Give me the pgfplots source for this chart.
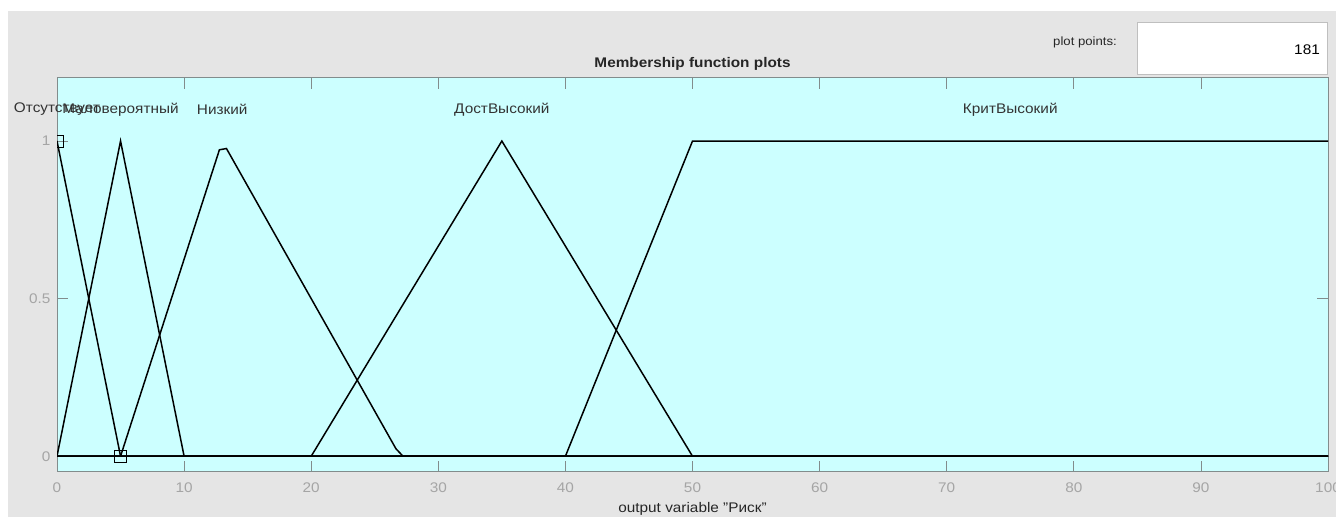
\documentclass[border=0pt]{standalone}
\usepackage{fontspec}
\setmainfont[FakeStretch=1.1]{Liberation Sans}
\usepackage{pgfplots}
\pgfplotsset{compat=1.18}
\definecolor{bg}{RGB}{229,229,229}
\definecolor{cy}{RGB}{204,255,255}
\definecolor{tl}{RGB}{165,165,165}
\definecolor{ax}{RGB}{130,140,140}
\begin{document}
\begin{tikzpicture}[x=1bp,y=1bp]
\path[use as bounding box] (0,0) rectangle (1336,517);
\fill[white] (0,0) rectangle (1336,517);
\fill[bg] (8,0) rectangle (1336,506);
\fill[white,draw=gray!50] (1137.5,443) rectangle (1327,495);
\node[anchor=east,font=\fontsize{14}{16}\selectfont,inner sep=0pt] at (1320,467) {181};
\node[anchor=east,font=\fontsize{12}{14}\selectfont,inner sep=0pt,text=black!85] at (1117,475) {plot points:};
\begin{axis}[
  at={(57bp,45bp)}, anchor=south west, scale only axis,
  width=1271bp, height=394bp,
  xmin=0, xmax=100, ymin=-0.05, ymax=1.2,
  xtick={0,10,...,100}, ytick={0,0.5,1},
  xticklabels={0,10,20,30,40,50,60,70,80,90,100},
  yticklabels={0,0.5,1},
  tick align=inside, xtick pos=both, ytick pos=both,
  major tick length=11bp,
  tick style={color=ax, line width=0.8bp},
  axis line style={color=ax, line width=1bp},
  axis background/.style={fill=cy},
  tick label style={font=\fontsize{14}{16}\selectfont, text=tl},
  xticklabel style={anchor=center, yshift=-16bp},
  yticklabel style={anchor=east, xshift=-3bp},
  title={Membership function plots},
  title style={at={(0.5,1)}, anchor=center, yshift=8bp, font=\bfseries\fontsize{14}{16}\selectfont, text=black!85},
  xlabel={output variable "Риск"},
  xlabel style={at={(0.5,0)}, anchor=center, yshift=-37bp, font=\fontsize{14}{16}\selectfont, text=black!85},
  clip mode=individual,
  clip marker paths=true,
]
\addplot[black, line width=1.5bp, no markers] coordinates {(0,1) (5,0) (100,0)};
\addplot[black, line width=1.5bp, no markers] coordinates {(0,0) (5,1) (10,0) (100,0)};
\addplot[black, line width=1.5bp, no markers] coordinates {(0,0) (5,0) (12.778,0.9722) (13.333,0.9762) (26.667,0.0238) (27.222,0) (100,0)};
\addplot[black, line width=1.5bp, no markers] coordinates {(0,0) (20,0) (35,1) (50,0) (100,0)};
\addplot[black, line width=1.5bp, no markers] coordinates {(0,0) (40,0) (50,1) (100,1)};
\addplot[black, only marks, mark=square, mark size=6bp, line width=0.8bp] coordinates {(0,1) (5,0)};
\begin{scope}[font=\fontsize{14}{16}\selectfont, text=black!80]
\node at (axis cs:0,1.1) {Отсутствует};
\node at (axis cs:5,1.1) {Маловероятный};
\node at (axis cs:13,1.1) {Низкий};
\node at (axis cs:35,1.1) {ДостВысокий};
\node at (axis cs:75,1.1) {КритВысокий};
\end{scope}
\end{axis}
\end{tikzpicture}
\end{document}
